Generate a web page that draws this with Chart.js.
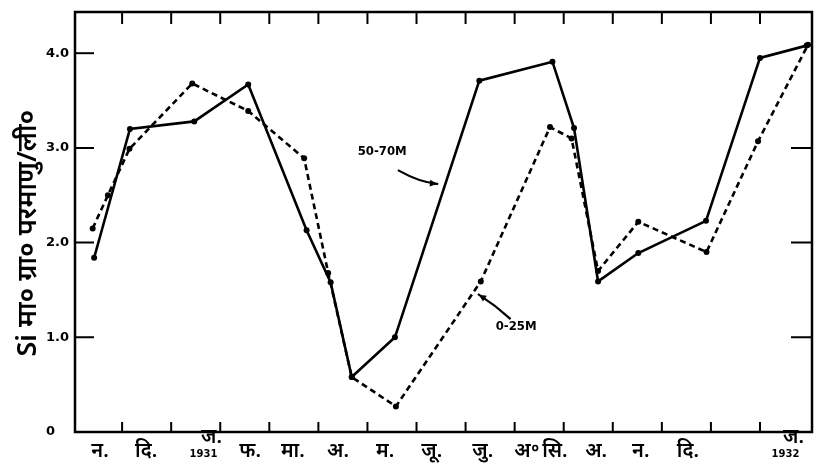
<!DOCTYPE html>
<html>
<head>
<meta charset="utf-8">
<script src="https://cdn.jsdelivr.net/npm/chart.js@4.4.0/dist/chart.umd.min.js"></script>
<style>
html,body{margin:0;padding:0;background:#fff;}
canvas{display:block;}
</style>
</head>
<body>
<canvas id="siChart" width="816" height="471"></canvas>
<script>
// ========== Data ==========
// x = months counted from the start of Nov 1930, y = Si (mg-atom / litre)
const deepMonths=[0.43,1.16,2.47,3.57,4.76,5.25,5.68,6.56,8.28,9.77,10.21,10.70,11.52,12.90,14.00,14.95];
const deepSi=[1.84,3.20,3.28,3.67,2.13,1.58,0.58,1.00,3.71,3.91,3.21,1.59,1.89,2.23,3.95,4.08];
const surfMonths=[0.40,0.71,1.15,2.43,3.57,4.71,5.20,5.68,6.58,8.31,9.72,10.16,10.70,11.52,12.91,13.96,14.98];
const surfSi=[2.15,2.50,2.99,3.68,3.39,2.89,1.68,0.58,0.27,1.59,3.22,3.10,1.70,2.22,1.90,3.07,4.09];

const monthLabels=['न.','दि.','ज.','फ.','मा.','अ.','म.','जू.','जु.','अ॰','सि.','अ.','न.','दि.','ज.'];
const labelAt=[0.55,1.49,2.72,3.61,4.48,5.40,6.36,7.31,8.35,9.25,9.82,10.66,11.57,12.53,14.58];
const yearLabels=['','','1931','','','','','','','','','','','','1932'];
const monthEdges=[1,2,3,4,5,6,7,8,9,10,11,12,13,14];
const yTicks=[0,1,2,3,4];
const yTickText=['0','1.0','2.0','3.0','4.0'];
const yTitle='Si मा० ग्रा० परमाणु/ली०';

const deepName='50-70M', surfName='0-25M';

// ========== Helpers ==========
const toXY=(xs,ys)=>xs.map((x,i)=>({x:x,y:ys[i]}));
const FONT_DEV="'Noto Sans','Noto Sans Devanagari','Lohit Devanagari','DejaVu Sans',sans-serif";

function arrow(ctx,x0,y0,cx,cy,x1,y1){
    ctx.beginPath();
    ctx.moveTo(x0,y0);
    ctx.quadraticCurveTo(cx,cy,x1,y1);
    ctx.stroke();
    const a=Math.atan2(y1-cy,x1-cx);
    ctx.beginPath();
    ctx.moveTo(x1,y1);
    ctx.lineTo(x1-8*Math.cos(a-0.45),y1-8*Math.sin(a-0.45));
    ctx.lineTo(x1-8*Math.cos(a+0.45),y1-8*Math.sin(a+0.45));
    ctx.closePath();
    ctx.fill();
}

// ========== Frame, ticks, labels ==========
const framePlugin={
    id:'frame',
    afterDraw(chart){
        const {ctx,chartArea:a,scales:{x,y}}=chart;
        ctx.save();
        ctx.strokeStyle='#000'; ctx.fillStyle='#000';
        ctx.lineWidth=2.5; ctx.lineCap='square';
        ctx.strokeRect(a.left,a.top,a.right-a.left,a.bottom-a.top);

        // month boundary ticks, pointing inward
        ctx.lineWidth=2;
        monthEdges.forEach(m=>{
            const px=x.getPixelForValue(m);
            ctx.beginPath();
            ctx.moveTo(px,a.bottom); ctx.lineTo(px,a.bottom-9);
            ctx.moveTo(px,a.top); ctx.lineTo(px,a.top+11);
            ctx.stroke();
        });
        // y ticks
        yTicks.forEach(v=>{
            if(v===0) return;
            const py=y.getPixelForValue(v);
            ctx.beginPath();
            ctx.moveTo(a.left,py); ctx.lineTo(a.left+18,py);
            if(v<4){ctx.moveTo(a.right,py); ctx.lineTo(a.right-20,py);}
            ctx.stroke();
        });

        // y tick labels
        ctx.font='bold 13px "DejaVu Sans",sans-serif';
        ctx.textAlign='left'; ctx.textBaseline='middle';
        yTicks.forEach((v,i)=>{
            ctx.fillText(yTickText[i],a.left-29,y.getPixelForValue(v));
        });

        // month labels
        ctx.textAlign='center'; ctx.textBaseline='alphabetic';
        monthLabels.forEach((t,i)=>{
            const px=x.getPixelForValue(labelAt[i]);
            ctx.font='600 20px '+FONT_DEV;
            if(yearLabels[i]){
                ctx.fillText(t,px+5,a.bottom+11);
                ctx.font='bold 10px "DejaVu Sans",sans-serif';
                ctx.fillText(yearLabels[i],px-3,a.bottom+25);
            } else {
                ctx.fillText(t,px,a.bottom+25);
            }
        });

        // y title
        ctx.save();
        ctx.translate(28,y.getPixelForValue(2.1));
        ctx.rotate(-Math.PI/2);
        ctx.font='600 27px '+FONT_DEV;
        ctx.textAlign='center'; ctx.textBaseline='middle';
        ctx.fillText(yTitle,0,0,290);
        ctx.restore();

        // series notes with arrows
        ctx.font='bold 13px "DejaVu Sans Condensed","DejaVu Sans",sans-serif';
        ctx.textAlign='center'; ctx.textBaseline='middle';
        ctx.fillText(deepName,x.getPixelForValue(6.30),y.getPixelForValue(2.96));
        ctx.fillText(surfName,x.getPixelForValue(9.03),y.getPixelForValue(1.11));
        ctx.lineWidth=2.2;
        arrow(ctx,x.getPixelForValue(6.64),y.getPixelForValue(2.76),
              x.getPixelForValue(7.05),y.getPixelForValue(2.64),
              x.getPixelForValue(7.42),y.getPixelForValue(2.62));
        arrow(ctx,x.getPixelForValue(8.90),y.getPixelForValue(1.20),
              x.getPixelForValue(8.60),y.getPixelForValue(1.34),
              x.getPixelForValue(8.27),y.getPixelForValue(1.45));
        ctx.restore();
    }
};

// ========== Chart ==========
new Chart(document.getElementById('siChart'),{
    type:'line',
    data:{datasets:[
        {label:deepName,data:toXY(deepMonths,deepSi),borderColor:'#000',backgroundColor:'#000',
         borderWidth:2.6,pointRadius:3,pointBorderWidth:0,tension:0,clip:false},
        {label:surfName,data:toXY(surfMonths,surfSi),borderColor:'#000',backgroundColor:'#000',
         borderWidth:2.6,borderDash:[6,4],pointRadius:3,pointBorderWidth:0,tension:0,clip:false}
    ]},
    options:{
        responsive:false,animation:false,devicePixelRatio:1,
        layout:{padding:{left:75,right:4,top:12,bottom:39}},
        plugins:{legend:{display:false},tooltip:{enabled:false}},
        scales:{
            x:{type:'linear',min:0.04,max:15.06,display:false},
            y:{type:'linear',min:0,max:4.435,display:false}
        }
    },
    plugins:[framePlugin]
});
</script>
</body>
</html>
